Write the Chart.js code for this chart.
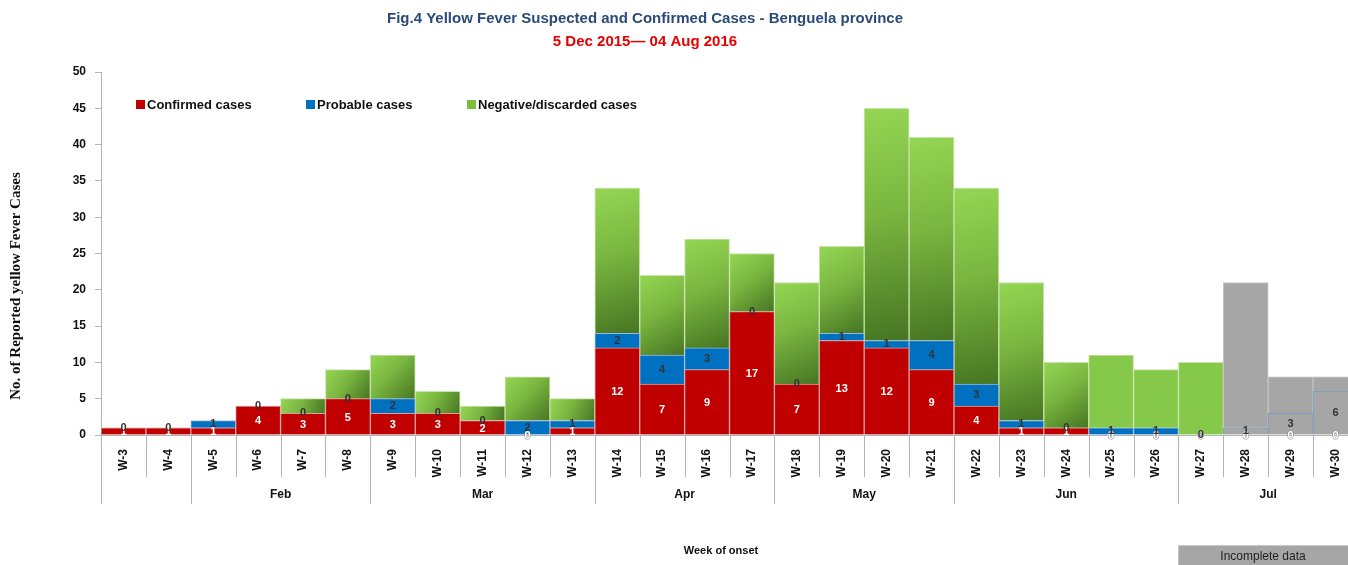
<!DOCTYPE html>
<html>
<head>
<meta charset="utf-8">
<script src="https://cdn.jsdelivr.net/npm/chart.js@4/dist/chart.umd.min.js"></script>
<style>
  html, body { margin: 0; padding: 0; background: #fff; overflow: hidden; }
  #wrap { position: relative; width: 1360px; height: 565px; }
</style>
</head>
<body>
<div id="wrap"><canvas id="feverChart"></canvas></div>
<script>
// weeks of onset
const weeks = ['W-3', 'W-4', 'W-5', 'W-6', 'W-7', 'W-8', 'W-9', 'W-10', 'W-11', 'W-12',
    'W-13', 'W-14', 'W-15', 'W-16', 'W-17', 'W-18', 'W-19', 'W-20', 'W-21', 'W-22',
    'W-23', 'W-24', 'W-25', 'W-26', 'W-27', 'W-28', 'W-29', 'W-30'];

const confirmed = [1, 1, 1, 4, 3, 5, 3, 3, 2, 0, 1, 12, 7, 9, 17, 7, 13, 12, 9, 4, 1, 1, 0, 0, 0, 0, 0, 0];
const probable  = [0, 0, 1, 0, 0, 0, 2, 0, 0, 2, 1, 2, 4, 3, 0, 0, 1, 1, 4, 3, 1, 0, 1, 1, 0, 1, 3, 6];
const negative  = [0, 0, 0, 0, 2, 4, 6, 3, 2, 6, 3, 20, 11, 15, 8, 14, 12, 32, 28, 27, 19, 9, 10, 8, 10, 20, 5, 2];

// month groups: label + index of first week in group
const months = ['', 'Feb', 'Mar', 'Apr', 'May', 'Jun', 'Jul'];
const monthStart = [0, 2, 6, 11, 15, 19, 24];

const yTicks = [0, 5, 10, 15, 20, 25, 30, 35, 40, 45, 50];

const incompleteFrom = 25; // W-28 onward is incomplete data
const flatGreenFrom = 22;

const RED = '#c00000';
const BLUE = '#0070c0';
const GREY = '#a6a6a6';
const LINE = '#b4b4b4';
const FONT = '"Liberation Sans", Arial, sans-serif';

function greenFill(ctx) {
    const i = ctx.dataIndex;
    if (i >= incompleteFrom) return GREY;
    if (i >= flatGreenFrom) return '#86c84a';
    const chart = ctx.chart;
    const xs = chart.scales.x, ys = chart.scales.y;
    if (!xs || !ys || !chart.chartArea) return '#86c84a';
    const cx = xs.getPixelForValue(i);
    const half = (chart.chartArea.right - chart.chartArea.left) / weeks.length / 2;
    const top = ys.getPixelForValue(confirmed[i] + probable[i] + negative[i]);
    const bot = ys.getPixelForValue(confirmed[i] + probable[i]);
    const g = chart.ctx.createLinearGradient(cx - half, top, cx + half, bot);
    g.addColorStop(0, '#94d654');
    g.addColorStop(0.45, '#7ab640');
    g.addColorStop(1, '#467522');
    return g;
}

const decor = {
    id: 'decor',
    afterDatasetsDraw(chart) {
        const ctx = chart.ctx;
        const m0 = chart.getDatasetMeta(0);
        const m1 = chart.getDatasetMeta(1);
        ctx.save();
        ctx.textAlign = 'center';
        ctx.textBaseline = 'middle';
        ctx.font = 'bold 11px ' + FONT;
        weeks.forEach((w, i) => {
            const a = m0.data[i];
            const cy = (a.y + a.base) / 2;
            ctx.lineWidth = 1;
            if (confirmed[i] === 0) {
                ctx.strokeStyle = '#888';
                ctx.strokeText('0', a.x, cy + 1);
            }
            ctx.fillStyle = '#ffffff';
            ctx.fillText(String(confirmed[i]), a.x, cy + 1);
        });
        weeks.forEach((w, i) => {
            const b = m1.data[i];
            const cy = (b.y + b.base) / 2;
            ctx.fillStyle = '#333333';
            ctx.fillText(String(probable[i]), b.x, cy);
        });
        ctx.restore();
    },
    afterDraw(chart) {
        const ctx = chart.ctx;
        const area = chart.chartArea;
        const xs = chart.scales.x;
        const step = (area.right - area.left) / weeks.length;
        ctx.save();

        // titles
        ctx.textAlign = 'center';
        ctx.textBaseline = 'middle';
        ctx.font = 'bold 15px ' + FONT;
        ctx.fillStyle = '#2b4a78';
        ctx.fillText('Fig.4 Yellow Fever Suspected and Confirmed Cases - Benguela province', 645, 19);
        ctx.fillStyle = '#e60000';
        ctx.fillText('5 Dec 2015\u2014 04 Aug 2016', 645, 42);

        // y axis title
        ctx.save();
        ctx.translate(16, 286);
        ctx.rotate(-Math.PI / 2);
        ctx.font = 'bold 15px "Liberation Serif", "Times New Roman", serif';
        ctx.fillStyle = '#111';
        ctx.fillText('No. of Reported yellow Fever Cases', 0, 0);
        ctx.restore();

        // legend
        const legend = [['Confirmed cases', RED, 136], ['Probable cases', BLUE, 306], ['Negative/discarded cases', '#7cbf3f', 467]];
        ctx.font = 'bold 13px ' + FONT;
        ctx.textAlign = 'left';
        legend.forEach(([txt, col, lx]) => {
            ctx.fillStyle = col;
            ctx.fillRect(lx, 100, 9, 9);
            ctx.fillStyle = '#111';
            ctx.fillText(txt, lx + 11, 105);
        });

        // category separators and month groups
        ctx.strokeStyle = LINE;
        ctx.lineWidth = 1;
        for (let i = 0; i <= weeks.length; i++) {
            const x = Math.round(area.left + i * step) + 0.5;
            const long = monthStart.includes(i);
            ctx.beginPath();
            ctx.moveTo(x, area.bottom);
            ctx.lineTo(x, long ? 504 : 477);
            ctx.stroke();
        }
        ctx.fillStyle = '#111';
        ctx.textAlign = 'center';
        ctx.font = 'bold 12px ' + FONT;
        months.forEach((mo, k) => {
            const s = monthStart[k];
            const e = k + 1 < monthStart.length ? monthStart[k + 1] : weeks.length;
            const mx = (xs.getPixelForValue(s) + xs.getPixelForValue(e - 1)) / 2;
            if (mo) ctx.fillText(mo, mx, 495);
        });

        ctx.font = 'bold 11px ' + FONT;
        ctx.fillText('Week of onset', 721, 551);

        // incomplete data box
        ctx.fillStyle = GREY;
        ctx.fillRect(1178, 545, 180, 20);
        ctx.strokeStyle = '#c8c8c8';
        ctx.strokeRect(1178.5, 545.5, 179, 20);
        ctx.fillStyle = '#222';
        ctx.font = '12px ' + FONT;
        ctx.fillText('Incomplete data', 1263, 557);

        ctx.restore();
    }
};

new Chart(document.getElementById('feverChart').getContext('2d'), {
    type: 'bar',
    data: {
        labels: weeks,
        datasets: [{
            label: 'Confirmed cases',
            data: confirmed,
            backgroundColor: RED,
            borderColor: '#d8a0a0',
            borderWidth: 1,
        }, {
            label: 'Probable cases',
            data: probable,
            backgroundColor: ctx => ctx.dataIndex >= incompleteFrom ? GREY : BLUE,
            borderColor: ctx => ctx.dataIndex >= incompleteFrom ? '#7f9fc4' : '#9bb8d8',
            borderWidth: 1,
        }, {
            label: 'Negative/discarded cases',
            data: negative,
            backgroundColor: greenFill,
            borderColor: ctx => ctx.dataIndex >= incompleteFrom ? '#c4c4c4' : '#c8e4a8',
            borderWidth: 1,
        }]
    },
    options: {
        responsive: true,
        maintainAspectRatio: false,
        animation: false,
        layout: { padding: { top: 72, right: 2, left: 0, bottom: 0 } },
        datasets: {
            bar: { categoryPercentage: 1, barPercentage: 1, stack: 'all' }
        },
        plugins: {
            legend: { display: false },
            tooltip: { enabled: false },
        },
        scales: {
            x: {
                stacked: true,
                grid: { display: false },
                border: { display: true, color: LINE },
                afterFit: s => { s.height = 130; },
                ticks: {
                    autoSkip: false,
                    minRotation: 90,
                    maxRotation: 90,
                    padding: 6,
                    color: '#111',
                    font: { family: FONT, size: 12, weight: 'bold' },
                },
            },
            y: {
                stacked: true,
                min: 0,
                max: 50,
                afterFit: s => { s.width = 101; },
                afterBuildTicks: s => { s.ticks = yTicks.map(v => ({ value: v })); },
                grid: { drawOnChartArea: false, drawTicks: true, tickLength: 6, color: LINE },
                border: { display: true, color: LINE },
                ticks: {
                    padding: 9,
                    color: '#111',
                    font: { family: FONT, size: 12, weight: 'bold' },
                },
            }
        }
    },
    plugins: [decor]
});
</script>
</body>
</html>
